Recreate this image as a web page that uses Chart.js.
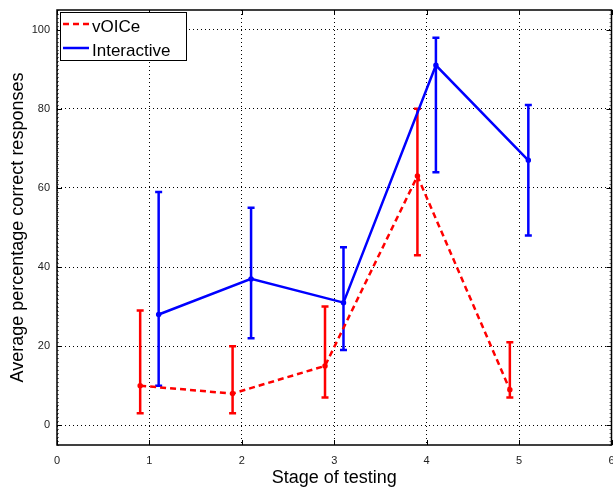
<!DOCTYPE html>
<html>
<head>
<meta charset="utf-8">
<script src="https://cdn.jsdelivr.net/npm/chart.js@4.4.0/dist/chart.umd.min.js"></script>
<style>
  html, body { margin: 0; padding: 0; background: #fff; overflow: hidden; }
</style>
</head>
<body>
<canvas id="chart" width="618" height="488"></canvas>
<script>
// stages of testing (x axis) and a small left/right offset per series
const stages = [1, 2, 3, 4, 5];
const xTicks = [0, 1, 2, 3, 4, 5, 6];
const yTicks = [0, 20, 40, 60, 80, 100];
const seriesOffset = 0.1;

// vOICe series
const voiceMean = [10, 8, 15, 63, 9];
const voiceLow = [3, 3, 7, 43, 7];
const voiceHigh = [29, 20, 30, 80, 21];

// Interactive series
const interMean = [28, 37, 31, 91, 67];
const interLow = [10, 22, 19, 64, 48];
const interHigh = [59, 55, 45, 98, 81];

const RED = "#ff0000";
const BLUE = "#0000ff";
const FONT = "'Liberation Sans', Arial, Helvetica, sans-serif";

const toPoints = (mean, off) => stages.map((s, i) => ({ x: s + off, y: mean[i] }));

// error bars drawn through the chart scales
const errorBars = {
  id: "errorBars",
  beforeDatasetsDraw(chart) {
    const { ctx, scales: { x, y } } = chart;
    chart.data.datasets.forEach((ds) => {
      ctx.save();
      ctx.strokeStyle = ds.borderColor;
      ctx.lineWidth = 2.5;
      ctx.setLineDash([]);
      ds.data.forEach((p, i) => {
        const px = x.getPixelForValue(p.x);
        const lo = y.getPixelForValue(ds.low[i]);
        const hi = y.getPixelForValue(ds.high[i]);
        const cap = 3.5;
        ctx.beginPath();
        ctx.moveTo(px, lo); ctx.lineTo(px, hi);
        ctx.moveTo(px - cap, lo); ctx.lineTo(px + cap, lo);
        ctx.moveTo(px - cap, hi); ctx.lineTo(px + cap, hi);
        ctx.stroke();
      });
      ctx.restore();
    });
  }
};

// box frame with inward ticks (matlab style)
const frame = {
  id: "frame",
  afterDatasetsDraw(chart) {
    const { ctx, chartArea: a, scales: { x, y } } = chart;
    ctx.save();
    ctx.setLineDash([]);
    // minor ticks on y
    ctx.strokeStyle = "#777";
    ctx.lineWidth = 1;
    ctx.beginPath();
    for (let v = -5; v <= 105; v++) {
      const py = Math.round(y.getPixelForValue(v)) + 0.5;
      ctx.moveTo(a.left, py); ctx.lineTo(a.left + 2, py);
      ctx.moveTo(a.right, py); ctx.lineTo(a.right - 2, py);
    }
    ctx.stroke();
    ctx.strokeStyle = "#000";
    ctx.beginPath();
    yTicks.forEach((v) => {
      const py = Math.round(y.getPixelForValue(v)) + 0.5;
      ctx.moveTo(a.left, py); ctx.lineTo(a.left + 5, py);
      ctx.moveTo(a.right, py); ctx.lineTo(a.right - 5, py);
    });
    xTicks.forEach((v) => {
      const px = Math.round(x.getPixelForValue(v)) + 0.5;
      ctx.moveTo(px, a.bottom); ctx.lineTo(px, a.bottom - 5);
      ctx.moveTo(px, a.top); ctx.lineTo(px, a.top + 5);
    });
    ctx.stroke();
    ctx.lineWidth = 1.5;
    ctx.strokeRect(a.left, a.top, a.right - a.left, a.bottom - a.top);
    ctx.restore();
  }
};

// legend box inside the top-left corner
const boxLegend = {
  id: "boxLegend",
  afterDraw(chart) {
    const { ctx, chartArea: a } = chart;
    const bx = a.left + 3, by = a.top + 2, bw = 126, bh = 48;
    ctx.save();
    ctx.fillStyle = "#fff";
    ctx.fillRect(bx, by, bw, bh);
    ctx.strokeStyle = "#000";
    ctx.lineWidth = 1;
    ctx.setLineDash([]);
    ctx.strokeRect(bx + 0.5, by + 0.5, bw, bh);
    ctx.font = "17px " + FONT;
    ctx.textBaseline = "middle";
    chart.data.datasets.forEach((ds, i) => {
      const ly = by + 12 + i * 24;
      ctx.strokeStyle = ds.borderColor;
      ctx.lineWidth = 2.5;
      ctx.setLineDash(ds.borderDash || []);
      ctx.beginPath();
      ctx.moveTo(bx + 3, ly); ctx.lineTo(bx + 29, ly);
      ctx.stroke();
      ctx.fillStyle = "#000";
      ctx.fillText(ds.label, bx + 32, ly + 3);
    });
    ctx.restore();
  }
};

new Chart(document.getElementById("chart"), {
  type: "line",
  data: {
    datasets: [
      {
        label: "vOICe",
        data: toPoints(voiceMean, -seriesOffset),
        low: voiceLow,
        high: voiceHigh,
        borderColor: RED,
        backgroundColor: RED,
        borderWidth: 2.5,
        borderDash: [6, 4],
        pointRadius: 1.5,
        tension: 0
      },
      {
        label: "Interactive",
        data: toPoints(interMean, seriesOffset),
        low: interLow,
        high: interHigh,
        borderColor: BLUE,
        backgroundColor: BLUE,
        borderWidth: 2.5,
        pointRadius: 1.5,
        tension: 0
      }
    ]
  },
  options: {
    responsive: false,
    animation: false,
    layout: { padding: { top: 10, right: 0, left: 0, bottom: 0 } },
    plugins: { legend: { display: false }, tooltip: { enabled: false } },
    scales: {
      x: {
        type: "linear",
        min: 0,
        max: 6,
        afterBuildTicks: (s) => { s.ticks = xTicks.map((v) => ({ value: v })); },
        afterFit: (s) => { s.height = 43; },
        grid: { color: "#000", lineWidth: 1, drawTicks: true, tickLength: 9, tickColor: "rgba(0,0,0,0)" },
        border: { display: false, dash: [1, 3] },
        ticks: { color: "#222", padding: 0, font: { family: FONT, size: 11 } },
        title: {
          display: true,
          text: "Stage of testing",
          color: "#000",
          font: { family: FONT, size: 18, lineHeight: 1 },
          padding: { top: 0, bottom: 1 }
        }
      },
      y: {
        min: -5,
        max: 105,
        afterBuildTicks: (s) => { s.ticks = yTicks.map((v) => ({ value: v })); },
        afterFit: (s) => { s.width = 57; },
        grid: { color: "#000", lineWidth: 1, drawTicks: true, tickLength: 7, tickColor: "rgba(0,0,0,0)" },
        border: { display: false, dash: [1, 3] },
        ticks: { color: "#222", padding: 0, font: { family: FONT, size: 11 } },
        title: {
          display: true,
          text: "Average percentage correct responses",
          color: "#000",
          font: { family: FONT, size: 18, lineHeight: 1 },
          padding: { top: 9, bottom: 0 }
        }
      }
    }
  },
  plugins: [errorBars, frame, boxLegend]
});
</script>
</body>
</html>
